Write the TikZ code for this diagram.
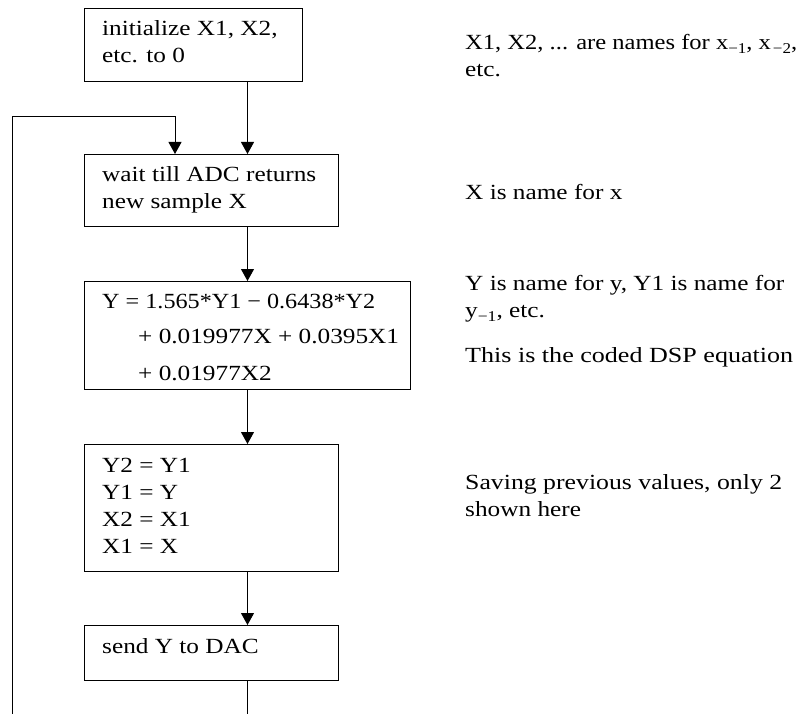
\documentclass[tikz,border=0pt]{standalone}
\usepackage{fontspec}
\usepackage{graphicx}
\setmainfont{Liberation Serif}[FakeStretch=1.17]
\usetikzlibrary{arrows.meta}

% stacked lines whose reference point is the first baseline
\newcommand{\stack}[1]{\begin{tabular}[t]{@{}l@{}}#1\end{tabular}}
% a line set to a given width, height unchanged
\newcommand{\fitw}[2]{\resizebox{#1}{\height}{#2}}
% lowered index
\newcommand{\idx}[1]{\raisebox{-4pt}{\fontsize{15}{15}\selectfont #1}}

\begin{document}
\begin{tikzpicture}[x=1pt,y=-1pt,
  font=\fontsize{21.6}{27}\selectfont,
  stepbox/.style={draw, line width=1pt, inner sep=0pt, anchor=north west},
  label/.style={inner sep=0pt, anchor=base west},
  flow/.style={line width=1pt, -{Triangle[width=13pt,length=12pt]}},
  plain/.style={line width=1pt}]

\useasboundingbox (0,0) rectangle (800,714);

% process boxes
\node[stepbox, minimum width=218pt, minimum height=73pt]  (b1) at (84,8)   {};
\node[stepbox, minimum width=254pt, minimum height=72pt]  (b2) at (84,154) {};
\node[stepbox, minimum width=326pt, minimum height=108pt] (b3) at (84,281) {};
\node[stepbox, minimum width=254pt, minimum height=127pt] (b4) at (84,444) {};
\node[stepbox, minimum width=254pt, minimum height=55pt]  (b5) at (84,625) {};

% box contents
\node[label] (t1) at (102,36)  {\stack{initialize X1, X2,\\etc. to 0}};
\node[label] (t2) at (102,182) {\stack{wait till ADC returns\\new sample X}};
\node[label] (t3) at (102,308) {\stack{\fitw{273pt}{Y = 1.565*Y1 − 0.6438*Y2}\\[8pt]
  \hspace{36pt}+ 0.019977X + 0.0395X1\\[10pt]
  \hspace{36pt}+ 0.01977X2}};
\node[label] (t4) at (102,472) {\stack{Y2 = Y1\\Y1 = Y\\X2 = X1\\X1 = X}};
\node[label] (t5) at (102,653) {send Y to DAC};

% side notes
\node[label] (n1) at (465,50)  {\stack{\fitw{332pt}{X1, X2, ... are names for x\idx{−1}, x\kern2pt\idx{−2},}\\etc.}};
\node[label] (n2) at (465,200) {X is name for x};
\node[label] (n3) at (465,290) {\stack{Y is name for y, Y1 is name for\\y\idx{−1}, etc.}};
\node[label] (n4) at (465,362) {\fitw{328pt}{This is the coded DSP equation}};
\node[label] (n5) at (465,489) {\stack{\fitw{317pt}{Saving previous values, only 2}\\shown here}};

% free ends of the loop at the bottom edge
\coordinate (exit) at (247,714);
\coordinate (back) at (12,714);
\coordinate (turn) at (12,117);

% main flow
\draw[flow] (b1.south -| b3.north) -- (b2.north -| b3.north);
\draw[flow] (b2.south -| b3.north) -- (b3.north);
\draw[flow] (b3.south) -- (b4.north -| b3.south);
\draw[flow] (b4.south -| b3.south) -- (b5.north -| b3.south);
\draw[plain] (b5.south -| exit) -- (exit);

% loop back to waiting for the next sample
\draw[flow] (back) -- (turn) -| ([xshift=91pt]b2.north west);
\end{tikzpicture}
\end{document}
